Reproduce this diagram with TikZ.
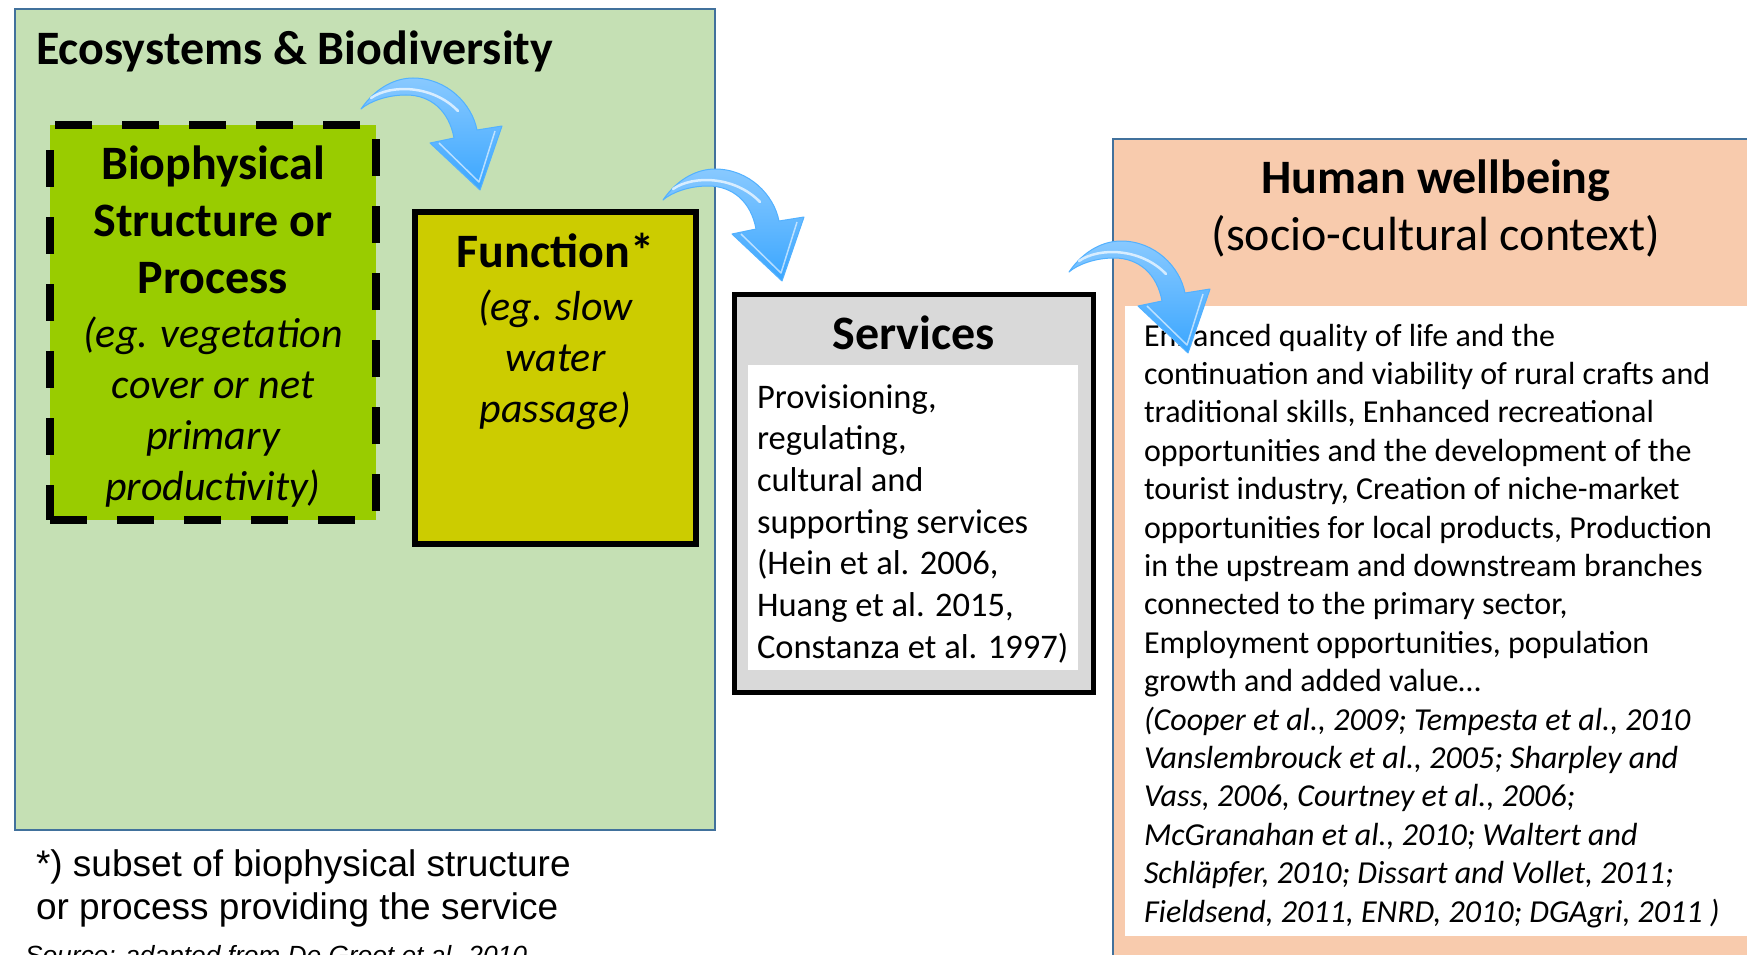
\documentclass[tikz,border=0pt]{standalone}
\usepackage{fontspec}
\setmainfont{Carlito}
\newfontfamily\arialf{Liberation Sans}
\definecolor{panelgreen}{HTML}{C5E0B4}
\definecolor{panelblue}{HTML}{41719C}
\definecolor{biogreen}{HTML}{99CC00}
\definecolor{funcyellow}{HTML}{CCCC00}
\definecolor{servgrey}{HTML}{D9D9D9}
\definecolor{peach}{HTML}{F8CBAD}
\definecolor{arrowlight}{HTML}{88C9FF}
\definecolor{arrowdark}{HTML}{3AA6FF}
\definecolor{arrowedge}{HTML}{52B1FF}
\tikzset{
  curvarrow/.pic={
    \path[top color=arrowlight, bottom color=arrowdark, draw=arrowedge, line width=1pt, line join=round]
      (0,0) .. controls (15,-22) and (35,-31) .. (52,-31)
      .. controls (86,-31) and (111,-5) .. (116,21)
      -- (141,17) -- (119,81) -- (69,34) -- (93,29)
      .. controls (88,2) and (70,-14) .. (45,-14)
      .. controls (25,-14) and (8,-7) .. (0,0) -- cycle;
    \draw[white, opacity=0.7, line width=2.5pt, line cap=round] (10,-11) .. controls (30,-25) and (72,-24) .. (97,2);
    \draw[white, opacity=0.6, line width=1.5pt, line join=round] (78,34) -- (118,73) -- (134,22);
  }
}
\begin{document}
\begin{tikzpicture}[x=1pt,y=-1pt,
  every node/.style={inner sep=0pt, outer sep=0pt},
  panel/.style={draw=panelblue, line width=2pt, anchor=north west},
  solidbox/.style={draw=black, anchor=north west}]
\useasboundingbox (0,0) rectangle (1747,955);
\clip (0,0) rectangle (1747,955);
\fill[white] (0,0) rectangle (1747,955);

% Ecosystems panel
\node[panel, fill=panelgreen, minimum width=700pt, minimum height=821pt] (eco) at (15,9) {};
\node[anchor=base west] (ecotitle) at (36,65) {\fontsize{48}{57}\selectfont\bfseries Ecosystems \& Biodiversity};

% Biophysical structure box
\node[anchor=north west, fill=biogreen, draw=black, line width=8pt, dash pattern=on 37pt off 30pt,
      minimum width=326pt, minimum height=395pt] (bio) at (50,125) {};
\node[anchor=base] (biotext) at (213,179) {\parbox[t]{326pt}{\centering
  {\fontsize{48}{57}\selectfont\bfseries Biophysical\\Structure or\\Process\par}\vskip3pt
  {\fontsize{42}{51}\selectfont\itshape (eg. vegetation\\cover or net\\primary\\productivity)\par}}};

% Function box
\node[solidbox, fill=funcyellow, line width=5.5pt, minimum width=281pt, minimum height=332pt] (func) at (415,212) {};
\node[anchor=base] (functext) at (555.5,267) {\parbox[t]{281pt}{\centering
  {\fontsize{48}{57}\selectfont\bfseries Function*\par}\vskip2pt
  {\fontsize{42}{51}\selectfont\itshape (eg. slow\\water\\passage)\par}}};

% Services box
\node[solidbox, fill=servgrey, line width=5pt, minimum width=359pt, minimum height=398pt] (serv) at (734,294) {};
\node[anchor=north west, fill=white, minimum width=330pt, minimum height=305pt] (servin) at (748,365) {};
\node[anchor=base] (servtitle) at (913.5,349) {\fontsize{48}{57}\selectfont\bfseries Services};
\node[anchor=base west] (servtext) at (757,408) {\parbox[t]{320pt}{\raggedright\fontsize{34.5}{41.7}\selectfont
  Provisioning,\\regulating,\\cultural and\\supporting services\\(Hein et al. 2006,\\Huang et al. 2015,\\Constanza et al. 1997)\par}};

% Human wellbeing box
\node[panel, fill=peach, line width=2.5pt, minimum width=700pt, minimum height=900pt] (human) at (1113,139) {};
\node[anchor=north west, fill=white, minimum width=680pt, minimum height=630pt] (humanin) at (1125,306) {};
\node[anchor=base] (humantitle) at (1436,193) {\parbox[t]{600pt}{\centering\fontsize{48}{57}\selectfont
  {\bfseries Human wellbeing}\\(socio-cultural context)\par}};
\node[anchor=base west] (humantext) at (1144,346) {\parbox[t]{600pt}{\raggedright\fontsize{32}{38.4}\selectfont
  Enhanced quality of life and the\\
  continuation and viability of rural crafts and\\
  traditional skills, Enhanced recreational\\
  opportunities and the development of the\\
  tourist industry, Creation of niche-market\\
  opportunities for local products, Production\\
  in the upstream and downstream branches\\
  connected to the primary sector,\\
  Employment opportunities, population\\
  growth and added value\ldots\\
  \itshape (Cooper et al., 2009; Tempesta et al., 2010\\
  Vanslembrouck et al., 2005; Sharpley and\\
  Vass, 2006, Courtney et al., 2006;\\
  McGranahan et al., 2010; Waltert and\\
  Schläpfer, 2010; Dissart and Vollet, 2011;\\
  Fieldsend, 2011, ENRD, 2010; DGAgri, 2011 )\par}};

% Footnotes
\node[anchor=base west] (footnote) at (36,876) {\parbox[t]{700pt}{\raggedright\arialf\fontsize{37}{43}\selectfont
  *) subset of biophysical structure\\or process providing the service\par}};
\node[anchor=base west] (source) at (25,964) {\arialf\itshape\fontsize{26.3}{30}\selectfont Source: adapted from De Groot et al. 2010};

% Curved arrows
\coordinate (a1) at (361,109);
\coordinate (a2) at (663,200);
\coordinate (a3) at (1069,272);
\pic at (a1) {curvarrow};
\pic at (a2) {curvarrow};
\pic at (a3) {curvarrow};
\end{tikzpicture}
\end{document}
